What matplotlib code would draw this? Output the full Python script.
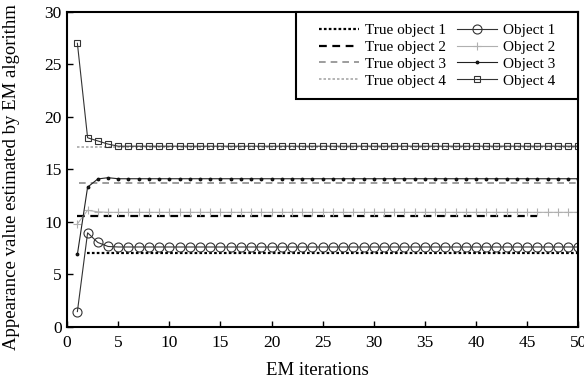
import matplotlib
matplotlib.use("Agg")
import matplotlib.pyplot as plt
from matplotlib.patches import Rectangle
import numpy as np

iterations = list(range(1, 51))
obj1_start = [1.45, 8.95, 8.03, 7.65]
obj1_final = 7.6
obj2_start = [9.8, 11.1, 10.95]
obj2_final = 10.9
obj3_start = [6.9, 13.3, 14.08, 14.2]
obj3_final = 14.1
obj4_start = [27.0, 18.0, 17.7, 17.4]
obj4_final = 17.2

obj1 = obj1_start + [obj1_final] * (50 - len(obj1_start))
obj2 = obj2_start + [obj2_final] * (50 - len(obj2_start))
obj3 = obj3_start + [obj3_final] * (50 - len(obj3_start))
obj4 = obj4_start + [obj4_final] * (50 - len(obj4_start))

true_values = [7.07, 10.55, 13.7, 17.1]
true_x_ranges = [(1.9, 50), (1.0, 46.0), (1.2, 50), (1.0, 50)]

plt.rcParams['font.family'] = ['Liberation Serif', 'DejaVu Serif']
plt.rcParams['font.size'] = 11

fig = plt.figure(figsize=(5.84, 3.80), dpi=100)
ax = fig.add_axes([0.115, 0.140, 0.875, 0.829])

h_t1, = ax.plot(true_x_ranges[0], [true_values[0]] * 2, color='black', ls=(0, (1.2, 1.0)), lw=1.6)
h_t2, = ax.plot(true_x_ranges[1], [true_values[1]] * 2, color='black', ls=(0, (3.5, 2.5)), lw=1.6)
h_t3, = ax.plot(true_x_ranges[2], [true_values[2]] * 2, color='#8c8c8c', ls=(0, (4, 3)), lw=1.2)
h_t4, = ax.plot(true_x_ranges[3], [true_values[3]] * 2, color='#a8a8a8', ls=(0, (1.5, 1.2)), lw=1.2)

h_o1, = ax.plot(iterations, obj1, color='#333333', lw=0.8, marker='o', ms=6.5,
                mfc='none', mec='#333333', mew=0.8)
h_o2, = ax.plot(iterations, obj2, color='#b0b0b0', lw=0.8, marker='+', ms=6,
                mec='#b0b0b0', mew=0.8)
h_o3, = ax.plot(iterations, obj3, color='#222222', lw=0.8, marker='.', ms=3.5,
                mec='#111111')
h_o4, = ax.plot(iterations, obj4, color='#333333', lw=0.8, marker='s', ms=5,
                mfc='none', mec='#333333', mew=0.8)

ax.set_xlim(0, 50)
ax.set_ylim(0, 30)
ax.set_xticks(range(0, 51, 5))
ax.set_yticks(range(0, 31, 5))
ax.tick_params(direction='in', length=4, width=1.0, labelsize=12.5, pad=4)
ax.tick_params(axis='x', pad=6)
for s in ax.spines.values():
    s.set_linewidth(1.5)

ax.set_xlabel('EM iterations', fontsize=13.5)
ax.set_ylabel('Appearance value estimated by EM algorithm', fontsize=13.5)
ax.xaxis.set_label_coords(0.49, -0.112)
ax.yaxis.set_label_coords(-0.092, 0.475)

# legend frame box
frame = Rectangle((0.448, 0.723), 0.552, 0.277, transform=ax.transAxes,
                  facecolor='white', edgecolor='black', linewidth=1.5, zorder=4,
                  clip_on=False)
ax.add_patch(frame)

handles = [h_t1, h_t2, h_t3, h_t4, h_o1, h_o2, h_o3, h_o4]
labels = ['True object 1', 'True object 2', 'True object 3', 'True object 4',
          'Object 1', 'Object 2', 'Object 3', 'Object 4']
leg = ax.legend(handles, labels, ncol=2, loc='center', bbox_to_anchor=(0.724, 0.861),
                fontsize=11, frameon=False,
                handlelength=2.6, handletextpad=0.4, columnspacing=0.7,
                labelspacing=0.2, borderpad=0.0, borderaxespad=0.0)
leg.set_zorder(5)

fig.savefig('out.png', dpi=100)
